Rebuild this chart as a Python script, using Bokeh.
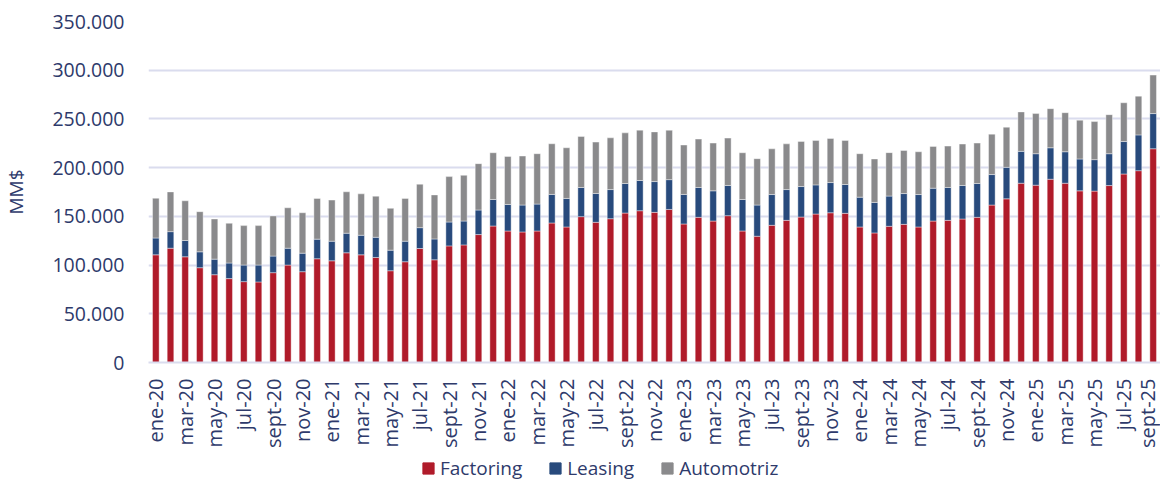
import math
from bokeh.plotting import figure
from bokeh.layouts import column
from bokeh.models import (ColumnDataSource, FixedTicker, CustomJSTickFormatter,
                          Legend, LegendItem, Range1d)
from bokeh.embed import file_html
from bokeh.resources import INLINE

meses = ["ene", "feb", "mar", "abr", "may", "jun", "jul", "ago", "sept", "oct", "nov", "dic"]
categorias = [f"{m}-{y}" for y in range(20, 26) for m in meses][:69]

factoring = [110500, 117300, 108500, 97300, 90100, 86100, 83000, 82700, 92200, 100000,
             93200, 106500, 104400, 112600, 110500, 107800, 94200, 103400, 117000, 105400,
             119700, 120700, 131300, 140100, 135000, 134000, 135000, 143200, 139100, 149700,
             143900, 147600, 153400, 155800, 154100, 157100, 142200, 149000, 145200, 150700,
             135000, 129600, 140800, 145900, 149300, 152400, 153700, 153100, 139100, 133000,
             139800, 141800, 139100, 145200, 145900, 147300, 149000, 161600, 168000, 184000,
             182000, 188100, 184000, 176200, 175900, 181600, 193500, 196900, 219400]
leasing = [17300, 17000, 16700, 16300, 16000, 16000, 17000, 17300, 17000, 17300,
           19000, 20100, 20100, 20100, 20100, 20700, 21100, 21100, 21400, 21400,
           24500, 24500, 25200, 27200, 27200, 27600, 27600, 29300, 29300, 29900,
           29600, 29900, 30300, 31000, 31600, 30600, 30300, 30600, 31000, 31000,
           32300, 32000, 31600, 31600, 31300, 29900, 31000, 29600, 30600, 31300,
           31000, 31600, 33300, 33700, 33700, 34400, 34700, 31300, 32300, 32700,
           32300, 32300, 32300, 32700, 32300, 32700, 33300, 36700, 36100]
automotriz = [40800, 40800, 40800, 41200, 41200, 40800, 40500, 40500, 41200, 41500,
              41500, 41800, 42200, 42500, 42500, 42200, 42900, 43900, 44600, 45200,
              46600, 46900, 47600, 48000, 49300, 50300, 51700, 52000, 52000, 52400,
              52700, 53100, 52000, 51700, 51000, 50700, 50700, 49700, 49000, 48600,
              48000, 47600, 46900, 46900, 46300, 45600, 45200, 45200, 44600, 44600,
              44600, 44200, 43900, 42900, 42500, 42500, 41500, 41500, 41200, 40500,
              41200, 40100, 40100, 39800, 39100, 40100, 39800, 39800, 39500]
series = ["Factoring", "Leasing", "Automotriz"]
colores = ["#B01B2A", "#284A7C", "#8A8A8C"]
yticks = [0, 50000, 100000, 150000, 200000, 250000, 300000, 350000]

x = list(range(len(categorias)))
src = ColumnDataSource(dict(x=x, Factoring=factoring, Leasing=leasing, Automotriz=automotriz))

TXT = "#2E3A6B"
FONT = "Open Sans"
GRID = "#DADCEE"

p = figure(width=1160, height=450, output_backend="svg", toolbar_location=None,
           x_range=Range1d(-0.5, len(categorias) - 0.5), y_range=Range1d(0, 350000),
           min_border_left=140, min_border_right=0, min_border_top=21, min_border_bottom=84)
p.outline_line_color = None
p.background_fill_color = "white"

r = p.vbar_stack(series, x="x", width=0.45, source=src, color=colores,
                 line_color="white", line_alpha=0.5, line_width=0.8)

# axes
p.yaxis.ticker = FixedTicker(ticks=yticks)
p.yaxis.formatter = CustomJSTickFormatter(code="return tick.toLocaleString('en-US').replace(/,/g, '.');")
p.yaxis.axis_line_color = None
p.yaxis.major_tick_line_color = None
p.yaxis.minor_tick_line_color = None
p.yaxis.major_label_text_font = FONT
p.yaxis.major_label_text_font_size = "19.5px"
p.yaxis.major_label_text_color = TXT
p.yaxis.major_label_standoff = 18
p.yaxis.axis_label = "MM$"
p.yaxis.axis_label_text_font = FONT
p.yaxis.axis_label_text_font_size = "19px"
p.yaxis.axis_label_text_font_style = "normal"
p.yaxis.axis_label_text_color = TXT
p.yaxis.axis_label_standoff = 20

p.xaxis.ticker = FixedTicker(ticks=x[::2])
p.xaxis.major_label_overrides = {i: categorias[i] for i in x[::2]}
p.xaxis.major_label_orientation = math.pi / 2
p.xaxis.axis_line_color = GRID
p.xaxis.axis_line_width = 2
p.xaxis.major_tick_line_color = None
p.xaxis.minor_tick_line_color = None
p.xaxis.major_label_text_font = FONT
p.xaxis.major_label_text_font_size = "20px"
p.xaxis.major_label_text_color = TXT
p.xaxis.major_label_standoff = 10

p.xgrid.grid_line_color = None
p.ygrid.grid_line_color = GRID
p.ygrid.grid_line_width = 2

# legend in a strip below the chart
lf = figure(width=1160, height=32, output_backend="svg", toolbar_location=None,
            x_range=Range1d(0, 1), y_range=Range1d(0, 1),
            x_axis_location=None, y_axis_location=None, min_border=0)
lf.outline_line_color = None
lf.xgrid.grid_line_color = None
lf.ygrid.grid_line_color = None
dummies = [lf.rect(x=[5], y=[5], width=1, height=1, color=c) for c in colores]
legend = Legend(items=[LegendItem(label=s, renderers=[d]) for s, d in zip(series, dummies)],
                orientation="horizontal", location=(273, 1),
                label_text_font=FONT, label_text_font_size="19px", label_text_color=TXT,
                glyph_width=14, glyph_height=14, spacing=26, label_standoff=5,
                padding=0, margin=0, border_line_color=None, background_fill_alpha=0)
lf.add_layout(legend, "center")

layout = column(p, lf, spacing=0)
open("out.html", "w").write(file_html(layout, INLINE))
